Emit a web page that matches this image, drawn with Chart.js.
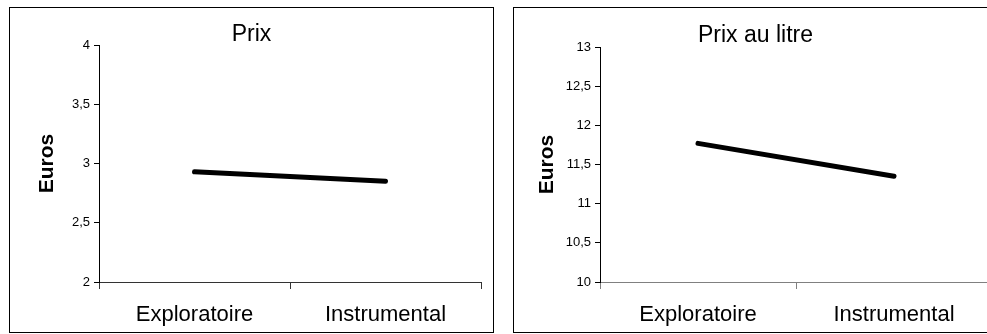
<!DOCTYPE html>
<html lang="fr">
  <head>
    <meta charset="UTF-8" />
    <title>Prix - Exploratoire / Instrumental</title>
    <script src="https://cdn.jsdelivr.net/npm/chart.js"></script>
    <style>
      body {
        margin: 0;
        width: 987px;
        height: 334px;
        overflow: hidden;
        background: #fff;
        font-family: 'Liberation Sans', Arial, sans-serif;
      }
      .panel {
        position: absolute;
        top: 7px;
        width: 485px;
        height: 326px;
        box-sizing: border-box;
        border: 1px solid #000;
      }
      .panel canvas {
        position: absolute;
        left: 0;
        top: 0;
      }
      .chart-title {
        position: absolute;
        left: 0;
        right: 0;
        text-align: center;
        font-size: 23px;
        line-height: 23px;
        color: #000;
      }
    </style>
  </head>
  <body>
    <div class="panel" style="left: 9px">
      <canvas id="chartPrix" width="483" height="324"></canvas>
      <div class="chart-title" style="top: 14px">Prix</div>
    </div>
    <div class="panel" style="left: 513px">
      <canvas id="chartLitre" width="483" height="324"></canvas>
      <div class="chart-title" style="top: 15px">Prix au litre</div>
    </div>

    <script>
      // données
      const categories = ['Exploratoire', 'Instrumental']
      const prix = [2.93, 2.85]
      const prixLitre = [11.77, 11.35]
      const prixTicks = [2, 4] // min, max
      const litreTicks = [10, 13]

      Chart.defaults.font.family = "'Liberation Sans', Arial, sans-serif"

      function makeChart(id, values, range, box) {
        return new Chart(document.getElementById(id), {
          type: 'line',
          data: {
            labels: categories,
            datasets: [
              {
                data: values,
                borderColor: '#000',
                borderWidth: 5,
                borderCapStyle: 'round',
                pointRadius: 0,
                tension: 0,
              },
            ],
          },
          options: {
            responsive: false,
            animation: false,
            layout: { padding: { top: box.top, right: box.right } },
            plugins: { legend: { display: false }, tooltip: { enabled: false } },
            scales: {
              x: {
                offset: true,
                grid: { offset: true, drawOnChartArea: false, tickLength: 7, color: box.xColor },
                border: { color: box.xColor },
                ticks: { padding: 13, color: '#000', font: { size: 22 }, maxRotation: 0 },
                afterFit: (s) => {
                  s.height = 324 - box.bottom
                },
              },
              y: {
                min: range[0],
                max: range[1],
                ticks: {
                  stepSize: 0.5,
                  padding: 4,
                  color: '#000',
                  font: { size: 13 },
                  callback: (v) => String(v).replace('.', ','),
                },
                grid: { drawOnChartArea: false, tickLength: 5, color: '#000' },
                border: { color: '#000' },
                title: {
                  display: true,
                  text: 'Euros',
                  color: '#000',
                  font: { size: 21, weight: 'bold' },
                  padding: { top: box.titleGap, bottom: 0 },
                },
                afterFit: (s) => {
                  s.width = box.left
                },
              },
            },
          },
        })
      }

      makeChart('chartPrix', prix, prixTicks, { left: 89, top: 37, right: 12, bottom: 274, titleGap: 25, xColor: '#333' })
      makeChart('chartLitre', prixLitre, litreTicks, { left: 86, top: 39, right: 5, bottom: 274, titleGap: 21, xColor: '#808080' })
    </script>
  </body>
</html>
